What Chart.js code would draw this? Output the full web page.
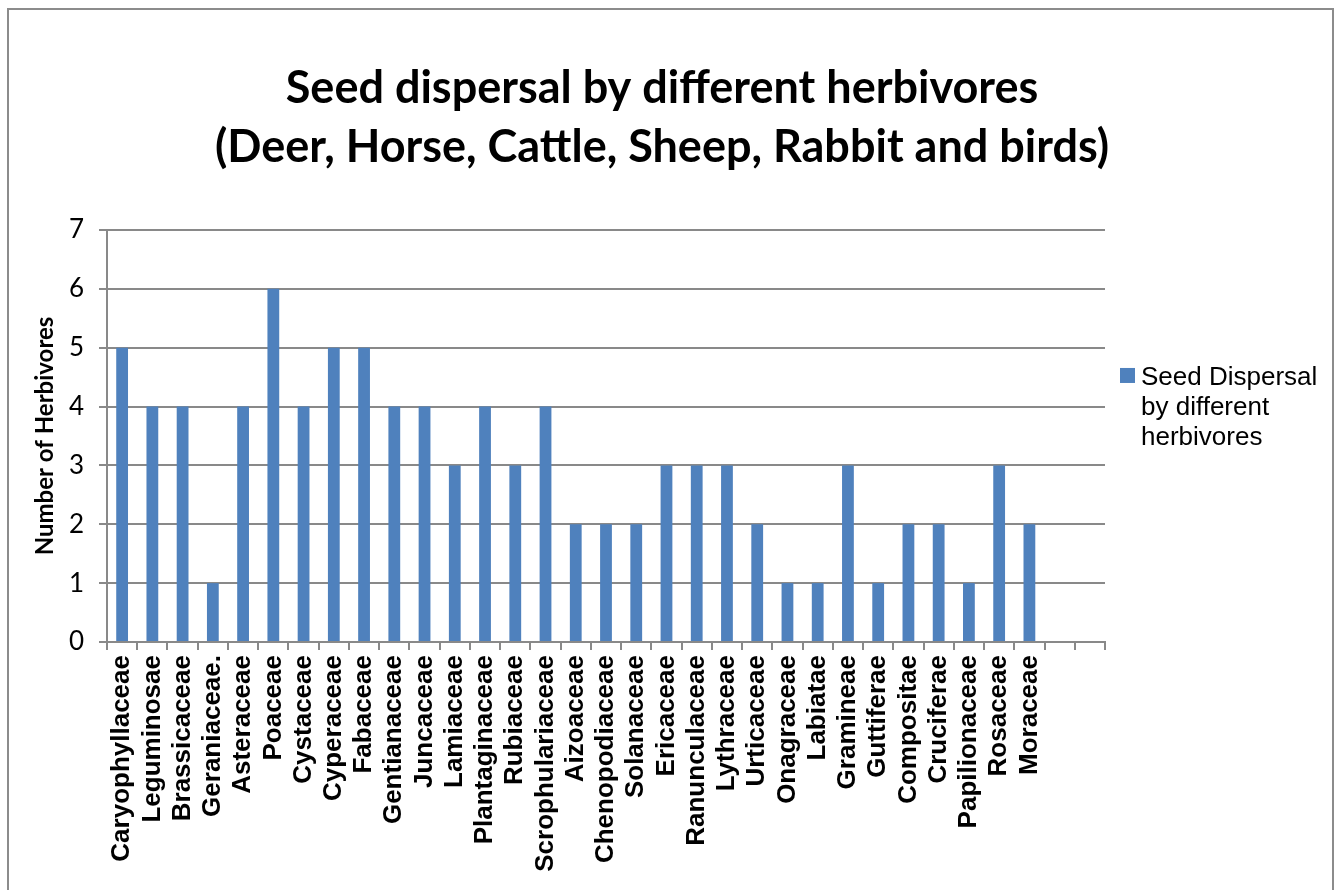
<!DOCTYPE html>
<html>
<head>
<meta charset="utf-8">
<title>Seed dispersal by different herbivores</title>
<script src="https://cdn.jsdelivr.net/npm/chart.js@4.4.1/dist/chart.umd.min.js"></script>
<style>
    body { margin: 0; background: #fff; }
    #wrap { position: relative; width: 1341px; height: 890px; overflow: hidden; }
    #frame {
        position: absolute; left: 7px; top: 8px; width: 1327px; height: 900px;
        border: 2px solid #8c8c8c; box-sizing: border-box;
    }
    #seedChart { position: absolute; left: 0; top: 0; }
</style>
</head>
<body>
<div id="wrap">
    <div id="frame"></div>
    <canvas id="seedChart" width="1341" height="890"></canvas>
</div>
<script>
const categories = [
    "Caryophyllaceae", "Leguminosae", "Brassicaceae", "Geraniaceae.", "Asteraceae",
    "Poaceae", "Cystaceae", "Cyperaceae", "Fabaceae", "Gentianaceae", "Juncaceae",
    "Lamiaceae", "Plantaginaceae", "Rubiaceae", "Scrophulariaceae", "Aizoaceae",
    "Chenopodiaceae", "Solanaceae", "Ericaceae", "Ranunculaceae", "Lythraceae",
    "Urticaceae", "Onagraceae", "Labiatae", "Gramineae", "Guttiferae", "Compositae",
    "Cruciferae", "Papilionaceae", "Rosaceae", "Moraceae", "", ""
];
const dispersalCounts = [
    5, 4, 4, 1, 4, 6, 4, 5, 5, 4, 4, 3, 4, 3, 4, 2,
    2, 2, 3, 3, 3, 2, 1, 1, 3, 1, 2, 2, 1, 3, 2, null, null
];
const yMin = 0;
const yMax = 7;
const yStep = 1;
const chartTitle = [
    "Seed dispersal by different herbivores",
    "(Deer, Horse, Cattle, Sheep, Rabbit and birds)"
];
const yAxisTitle = "Number of Herbivores";
const seriesLegend = ["Seed Dispersal", "by different", "herbivores"];

const barColor = "#4f81bd";
const gridColor = "#898989";

// legend on the right, drawn as its own layout box so the title stays centred
const sideLegend = {
    id: "sideLegend",
    beforeInit(chart) {
        const box = {
            position: "right",
            weight: 0,
            fullSize: false,
            options: {},
            isHorizontal() { return false; },
            update(maxWidth, maxHeight) {
                this.width = 189;
                this.height = maxHeight;
            },
            draw() {
                const ctx = chart.ctx;
                const x = this.left + 15;
                const y = chart.chartArea.top + 138;
                ctx.save();
                ctx.fillStyle = barColor;
                ctx.fillRect(x, y, 15, 15);
                ctx.fillStyle = "#000";
                ctx.font = "26px 'Liberation Sans', Arial, sans-serif";
                ctx.textBaseline = "alphabetic";
                seriesLegend.forEach((line, i) => {
                    ctx.fillText(line, x + 21, y + 17 + i * 30);
                });
                ctx.restore();
            }
        };
        Chart.layouts.addBox(chart, box);
    }
};

new Chart(document.getElementById("seedChart"), {
    type: "bar",
    data: {
        labels: categories,
        datasets: [{
            label: seriesLegend.join(" "),
            data: dispersalCounts,
            backgroundColor: barColor,
            borderWidth: 0,
            barPercentage: 0.39,
            categoryPercentage: 1
        }]
    },
    options: {
        responsive: false,
        animation: false,
        layout: {
            padding: { left: 30, right: 47, top: 0, bottom: 0 }
        },
        plugins: {
            legend: { display: false },
            tooltip: { enabled: false },
            title: {
                display: true,
                text: chartTitle,
                color: "#000",
                font: { family: "Lato", size: 45, weight: "bold", lineHeight: 1.333 },
                padding: { top: 58, bottom: 52 }
            }
        },
        scales: {
            x: {
                afterFit: scale => { scale.height = 248; },
                grid: {
                    drawOnChartArea: false,
                    color: gridColor,
                    lineWidth: 2,
                    tickLength: 8
                },
                border: { color: gridColor, width: 2 },
                ticks: {
                    autoSkip: false,
                    minRotation: 90,
                    maxRotation: 90,
                    padding: 5,
                    color: "#000",
                    font: { family: "'Liberation Sans', Arial, sans-serif", size: 26, weight: "bold" }
                }
            },
            y: {
                min: yMin,
                max: yMax,
                afterFit: scale => { scale.width = 77; },
                grid: {
                    color: gridColor,
                    lineWidth: 2,
                    tickLength: 8
                },
                border: { color: gridColor, width: 2 },
                ticks: {
                    stepSize: yStep,
                    padding: 15,
                    color: "#000",
                    font: { family: "Lato", size: 26 }
                },
                title: {
                    display: true,
                    text: yAxisTitle,
                    color: "#000",
                    padding: { top: 1, bottom: 0 },
                    font: { family: "Lato", size: 24, weight: "bold" }
                }
            }
        }
    },
    plugins: [sideLegend]
});
</script>
</body>
</html>
